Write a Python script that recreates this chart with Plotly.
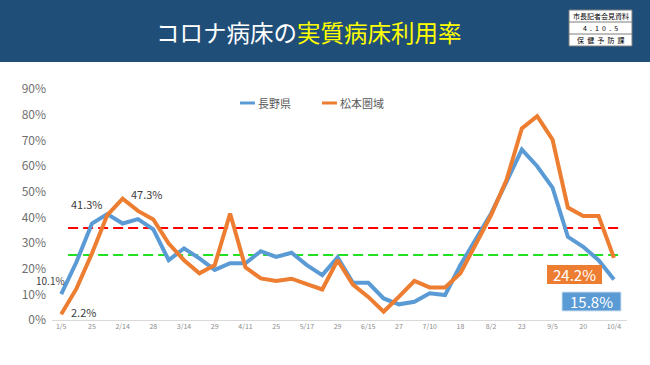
import plotly.graph_objects as go

# ---- data ----
tick_labels = ["1/5", "25", "2/14", "28", "3/14", "29", "4/11", "25", "5/17", "29",
               "6/15", "27", "7/10", "18", "8/2", "23", "9/5", "20", "10/4"]
y_tick_values = [0, 10, 20, 30, 40, 50, 60, 70, 80, 90]
y_tick_labels = ["0%", "10%", "20%", "30%", "40%", "50%", "60%", "70%", "80%", "90%"]
nagano = [10.1, 22.7, 37.6, 41.3, 37.6, 39.3, 35.3, 23.3, 27.9, 24.0,
          19.5, 22.1, 22.1, 26.8, 24.6, 26.2, 21.4, 17.5, 24.4, 14.5,
          14.5, 8.4, 6.1, 7.1, 10.4, 9.7, 21.4, 31.1, 41.5, 53.8,
          66.4, 59.9, 51.6, 32.4, 28.5, 23.3, 15.8]
matsumoto = [2.2, 12.3, 25.9, 40.9, 47.3, 42.5, 39.2, 29.8, 23.3, 18.2,
             21.4, 41.5, 20.5, 16.2, 15.2, 16.1, 14.0, 11.9, 23.3, 13.8,
             9.0, 3.2, 9.1, 15.2, 12.7, 12.7, 18.2, 29.2, 40.9, 54.5,
             74.6, 79.4, 70.3, 43.8, 40.5, 40.5, 24.2]
red_level = 35.8
green_level = 25.3
series_names = ["長野県", "松本圏域"]

x = list(range(len(nagano)))
tickvals = list(range(0, len(nagano), 2))

BLUE = "#5b9bd5"
ORANGE = "#ed7d31"
FONT = "Noto Sans CJK JP"

# pixel geometry helpers (plot area 52..627 x, 89..320 y)
L, R, T, B = 52, 627, 89, 320
def xp(px):
    return (px - L) / (R - L)
def yp(py):
    return (B - py) / (B - T)

fig = go.Figure()
fig.add_trace(go.Scatter(x=x, y=nagano, mode="lines", name=series_names[0],
                         line=dict(color=BLUE, width=4), hoverinfo="y"))
fig.add_trace(go.Scatter(x=x, y=matsumoto, mode="lines", name=series_names[1],
                         line=dict(color=ORANGE, width=4), hoverinfo="y"))

shapes = [
    # title bar
    dict(type="rect", xref="paper", yref="paper", x0=xp(-5), x1=xp(655),
         y0=yp(62), y1=yp(-5), fillcolor="#1f4e79", line=dict(width=0), layer="below"),
    # info box
    dict(type="rect", xref="paper", yref="paper", x0=xp(569), x1=xp(632),
         y0=yp(46), y1=yp(10), fillcolor="white", line=dict(color="#7f7f7f", width=1)),
    dict(type="line", xref="paper", yref="paper", x0=xp(569), x1=xp(632),
         y0=yp(22), y1=yp(22), line=dict(color="#7f7f7f", width=1)),
    dict(type="line", xref="paper", yref="paper", x0=xp(569), x1=xp(632),
         y0=yp(34), y1=yp(34), line=dict(color="#7f7f7f", width=1)),
    # threshold dashed lines
    dict(type="line", xref="x", yref="y", x0=0.45, x1=36.3, y0=red_level, y1=red_level,
         line=dict(color="#ff0000", width=2, dash="10px,5px"), layer="below"),
    dict(type="line", xref="x", yref="y", x0=0.45, x1=36.3, y0=green_level, y1=green_level,
         line=dict(color="#22e022", width=2, dash="10px,5px"), layer="below"),
    # legend samples
    dict(type="line", xref="paper", yref="paper", x0=xp(240), x1=xp(255),
         y0=yp(103), y1=yp(103), line=dict(color=BLUE, width=3)),
    dict(type="line", xref="paper", yref="paper", x0=xp(322), x1=xp(337),
         y0=yp(103), y1=yp(103), line=dict(color=ORANGE, width=3)),
    # end-value boxes
    dict(type="rect", xref="paper", yref="paper", x0=xp(547), x1=xp(602),
         y0=yp(284), y1=yp(265), fillcolor=ORANGE, line=dict(width=0)),
    dict(type="rect", xref="paper", yref="paper", x0=xp(562), x1=xp(621),
         y0=yp(311), y1=yp(292), fillcolor=BLUE, line=dict(color="#cfe0f0", width=1)),
]

def ann(text, px, py, size, color, xanchor="center"):
    return dict(text=text, xref="paper", yref="paper", x=xp(px), y=yp(py),
                xanchor=xanchor, yanchor="middle", showarrow=False,
                font=dict(family=FONT, size=size, color=color))

annotations = [
    ann("コロナ病床の<span style='color:#ffff00'>実質病床利用率</span>", 309, 32, 23.5, "white"),
    ann("市長記者会見資料", 600.5, 16, 7, "black"),
    ann("4  .  1  0  .  5", 600.5, 28, 7, "black"),
    ann("保  健  予  防  課", 600.5, 40, 7, "black"),
    ann(series_names[0], 256, 103, 11, "#595959", "left"),
    ann(series_names[1], 338, 103, 11, "#595959", "left"),
    ann(f"{nagano[0]}%", 50, 280.5, 10, "#404040"),
    ann(f"{matsumoto[0]}%", 83, 312, 11, "#404040"),
    ann(f"{max(nagano[:10])}%", 87, 204, 11, "#404040"),
    ann(f"{max(matsumoto[:10])}%", 147, 194, 11, "#404040"),
    ann(f"{matsumoto[-1]}%", 574.5, 274.5, 15, "white"),
    ann(f"{nagano[-1]}%", 591.5, 301.5, 15, "white"),
]

fig.update_layout(
    width=650, height=365,
    margin=dict(l=L, r=650 - R, t=T, b=365 - B, pad=0),
    paper_bgcolor="white", plot_bgcolor="white",
    showlegend=False,
    font=dict(family=FONT, color="#595959"),
    shapes=shapes, annotations=annotations,
    xaxis=dict(range=[-0.6, 36.85], tickvals=tickvals, ticktext=tick_labels,
               showgrid=False, zeroline=False, showline=True, linecolor="#d9d9d9",
               linewidth=1, ticks="", tickfont=dict(size=7, color="#8c8c8c")),
    yaxis=dict(range=[0, 90], tickvals=y_tick_values, ticktext=y_tick_labels,
               showgrid=False, zeroline=False, showline=False, ticklabelstandoff=5,
               tickfont=dict(family=FONT, size=12, color="#6f6f6f")),
)

fig.write_html("out.html", config={"displayModeBar": False},
               post_script="document.body.style.margin='0';document.body.style.overflow='hidden';")
